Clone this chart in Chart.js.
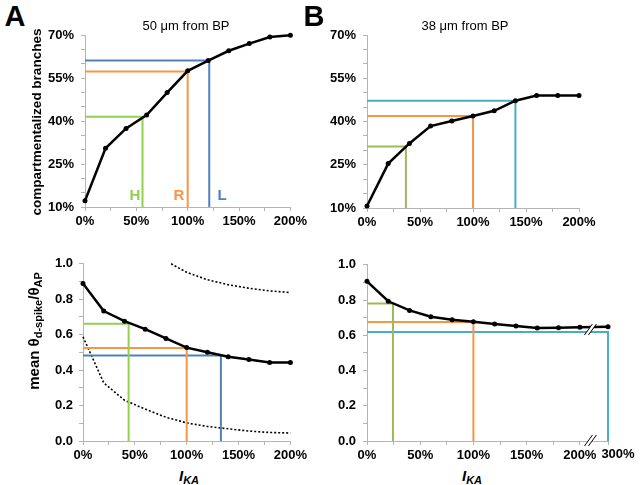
<!DOCTYPE html>
<html>
<head>
<meta charset="utf-8">
<script src="https://cdn.jsdelivr.net/npm/chart.js@4.4.1/dist/chart.umd.min.js"></script>
<style>
  body { margin: 0; background: #fff; }
  #wrap { position: relative; width: 640px; height: 485px; font-family: Arial, "Liberation Sans", sans-serif; overflow: hidden; }
  canvas { position: absolute; }
  .lbl { position: absolute; white-space: nowrap; line-height: 1; transform: translate(-50%, -50%); color: #000; }
  .panel { font-size: 29px; font-weight: bold; }
  .title { font-size: 13px; }
  .ytitle { font-size: 13.5px; font-weight: bold; transform: translate(-50%, -50%) rotate(-90deg); }
  .ytitle.big { font-size: 15px; }
  .ytitle sub, .xtitle sub { font-size: 11px; vertical-align: -3px; line-height: 0; }
  .xtitle { font-size: 15px; font-weight: bold; font-style: italic; }
  .tick { font-size: 13px; font-weight: bold; }
  .mark { font-size: 15px; font-weight: bold; }
</style>
</head>
<body>
<div id="wrap">
  <canvas id="topA" width="280" height="222" style="left:30px;top:20px"></canvas>
  <canvas id="topB" width="280" height="222" style="left:320px;top:20px"></canvas>
  <canvas id="botA" width="280" height="215" style="left:30px;top:250px"></canvas>
  <canvas id="botB" width="318" height="215" style="left:320px;top:250px"></canvas>

  <div class="lbl panel" style="left:15px;top:16px">A</div>
  <div class="lbl panel" style="left:314px;top:16px">B</div>
  <div class="lbl title" style="left:186px;top:25px">50 μm from BP</div>
  <div class="lbl title" style="left:465px;top:25px">38 μm from BP</div>
  <div class="lbl ytitle" style="left:37px;top:122px">compartmentalized branches</div>
  <div class="lbl ytitle big" style="left:33px;top:331px">mean θ<sub>d-spike</sub>/θ<sub>AP</sub></div>
  <div class="lbl xtitle" style="left:189px;top:475px">I<sub>KA</sub></div>
  <div class="lbl xtitle" style="left:472px;top:475px">I<sub>KA</sub></div>
  <div class="lbl tick" style="left:618px;top:453px">300%</div>
  <div class="lbl mark" style="left:135px;top:194px;color:#92d050">H</div>
  <div class="lbl mark" style="left:179px;top:194px;color:#f79646">R</div>
  <div class="lbl mark" style="left:222px;top:194px;color:#4f81bd">L</div>
</div>

<script>
// I_KA levels (% of control)
const xA = [0, 20, 40, 60, 80, 100, 120, 140, 160, 180, 200];
const xB = [0, 20, 40, 60, 80, 100, 120, 140, 160, 180, 200, 300];

// compartmentalized branches (%)
const branchesA = [12.2, 30.5, 37.4, 42.1, 49.9, 57.5, 61.1, 64.5, 67.0, 69.3, 69.9];
const branchesB = [10.7, 25.4, 32.4, 38.4, 40.2, 41.9, 43.7, 47.2, 49.0, 49.0, 49.0];

// mean theta d-spike / theta AP
const thetaA = [0.889, 0.733, 0.676, 0.631, 0.579, 0.527, 0.501, 0.475, 0.460, 0.443, 0.443];
const thetaB = [0.906, 0.793, 0.741, 0.705, 0.688, 0.677, 0.664, 0.652, 0.641, 0.643, 0.645, 0.649];

// dotted bounds in panel A
const upperX = [85, 100, 120, 140, 160, 180, 200];
const upperA = [1.0, 0.952, 0.91, 0.882, 0.862, 0.847, 0.838];
const lowerA = [0.588, 0.328, 0.23, 0.18, 0.134, 0.102, 0.082, 0.069, 0.056, 0.048, 0.045];

// H / R / L reference levels: [x, y]
const guidesTopA = [[56, 41.5], [100, 57.3], [121, 61.1]];
const guidesTopB = [[36.7, 31.3], [100, 41.9], [140, 47.2]];
const guidesBotA = [[44, 0.662], [100, 0.525], [133, 0.482]];
const guidesBotB = [[24.4, 0.781], [100, 0.675], [300, 0.619]];

const colorsA = ['#92d050', '#f79646', '#4f81bd'];
const colorsB = ['#9bbb59', '#f79646', '#4bacc6'];
const gray = '#b4b4b4';
const tickFont = { family: 'Arial', weight: 'bold', size: 13 };

// axis break for the 300% point in panel B
const brk = (x) => (x <= 200 ? x : 200 + (x - 200) * 0.265);

function points(xs, ys, fx) {
  return xs.map((x, i) => ({ x: fx ? fx(x) : x, y: ys[i] }));
}

function mainLine(xs, ys, fx) {
  return {
    data: points(xs, ys, fx), showLine: true, borderColor: '#000', backgroundColor: '#000',
    borderWidth: 2.5, pointRadius: 2.5, pointBorderWidth: 0, clip: false, order: 0
  };
}

function guideLines(list, colors, yMin, fx) {
  return list.map(([x, y], i) => {
    const gx = fx ? fx(x) : x;
    return {
      data: [{ x: 0, y: y }, { x: gx, y: y }, { x: gx, y: yMin }], showLine: true,
      borderColor: colors[i], borderWidth: 2, pointRadius: 0, clip: false, order: 1
    };
  });
}

function dotted(xs, ys) {
  return {
    data: points(xs, ys), showLine: true, borderColor: '#000', borderWidth: 1.6,
    borderDash: [2, 2], pointRadius: 0, clip: false, order: 2
  };
}

function options(cfg) {
  return {
    responsive: false,
    animation: false,
    layout: { padding: { top: cfg.top, right: cfg.right, left: 0, bottom: 0 } },
    plugins: { legend: { display: false }, tooltip: { enabled: false } },
    scales: {
      x: {
        type: 'linear', min: 0, max: cfg.xMax,
        afterFit: (s) => { s.height = cfg.xH; },
        afterBuildTicks: cfg.xTicks ? (s) => { s.ticks = cfg.xTicks.map((v) => ({ value: v })); } : undefined,
        border: { color: gray, width: 1 },
        grid: { drawOnChartArea: false, tickLength: 4, color: gray },
        ticks: {
          stepSize: 25, autoSkip: false, maxRotation: 0, padding: 3, color: '#000', font: tickFont,
          callback: cfg.xLabel || ((v) => (v % 50 === 0 ? v + '%' : ''))
        }
      },
      y: {
        min: cfg.yMin, max: cfg.yMax,
        afterFit: (s) => { s.width = cfg.yW; },
        border: { color: gray, width: 1 },
        grid: { drawOnChartArea: false, tickLength: 4, color: gray },
        ticks: {
          stepSize: cfg.yStep, autoSkip: false, padding: cfg.yPad, color: '#000', font: tickFont,
          callback: cfg.yLabel
        }
      }
    }
  };
}

const pctLabel = (v) => (Math.round(v - 10) % 15 === 0 ? Math.round(v) + '%' : '');
const ratioLabel = (v) => (Math.round(v * 10) % 2 === 0 ? v.toFixed(1) : '');

new Chart(document.getElementById('topA'), {
  type: 'scatter',
  data: { datasets: [mainLine(xA, branchesA), ...guideLines(guidesTopA, colorsA, 10)] },
  options: options({ top: 15, right: 15, xH: 35, yW: 55, xMax: 200, yMin: 10, yMax: 70, yStep: 5, yPad: 7, yLabel: pctLabel })
});

new Chart(document.getElementById('topB'), {
  type: 'scatter',
  data: { datasets: [mainLine(xA, branchesB), ...guideLines(guidesTopB, colorsB, 10)] },
  options: options({ top: 15, right: 21, xH: 34, yW: 47, xMax: 200, yMin: 10, yMax: 70, yStep: 5, yPad: 7, yLabel: pctLabel })
});

new Chart(document.getElementById('botA'), {
  type: 'scatter',
  data: {
    datasets: [mainLine(xA, thetaA), ...guideLines(guidesBotA, colorsA, 0),
      dotted(upperX, upperA), dotted(xA, lowerA)]
  },
  options: options({ top: 11, right: 15, xH: 24, yW: 53, xMax: 200, yMin: 0, yMax: 1, yStep: 0.1, yPad: 6, yLabel: ratioLabel })
});

// little "//" marks where the x axis is broken
const breakMarks = {
  id: 'breakMarks',
  afterDatasetsDraw(chart) {
    const { ctx, scales } = chart;
    const px = scales.x.getPixelForValue(210);
    const spots = [scales.y.getPixelForValue(0.63), scales.y.bottom];
    ctx.save();
    spots.forEach((py) => {
      ctx.fillStyle = '#fff';
      ctx.beginPath();
      ctx.moveTo(px - 6, py + 5);
      ctx.lineTo(px + 2, py - 6);
      ctx.lineTo(px + 6, py - 6);
      ctx.lineTo(px - 2, py + 5);
      ctx.closePath();
      ctx.fill();
      ctx.strokeStyle = '#000';
      ctx.lineWidth = 1;
      [-2, 2].forEach((d) => {
        ctx.beginPath();
        ctx.moveTo(px - 4 + d, py + 5);
        ctx.lineTo(px + 4 + d, py - 6);
        ctx.stroke();
      });
    });
    ctx.restore();
  }
};

new Chart(document.getElementById('botB'), {
  type: 'scatter',
  data: { datasets: [mainLine(xB, thetaB, brk), ...guideLines(guidesBotB, colorsB, 0, brk)] },
  options: options({
    top: 9, right: 30, xH: 24, yW: 47, xMax: brk(300), yMin: 0, yMax: 1, yStep: 0.1, yPad: 7, yLabel: ratioLabel,
    xTicks: [0, 25, 50, 75, 100, 125, 150, 175, 200, brk(300)],
    xLabel: (v) => (v > 200 ? '' : (v % 50 === 0 ? v + '%' : ''))
  }),
  plugins: [breakMarks]
});
</script>
</body>
</html>
